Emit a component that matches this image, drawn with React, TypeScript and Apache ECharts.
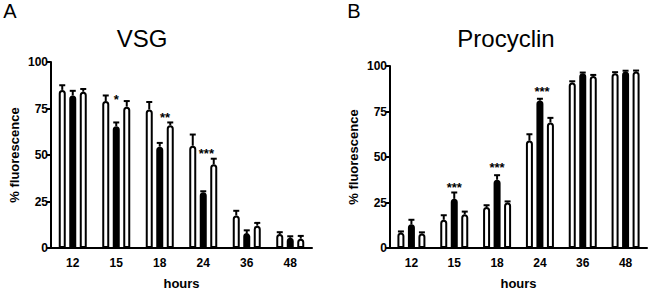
import React, { useEffect, useRef } from "react";
import * as echarts from "echarts";

const categories = ["12", "15", "18", "24", "36", "48"];

// Panel A: VSG
const vsgWT = [85, 79, 74.5, 55, 17.5, 7.5];
const vsgWTErr = [2.5, 3, 4, 6, 2.5, 1];
const vsgKO = [82, 65.5, 54.5, 30, 8, 5.5];
const vsgKOErr = [2.5, 2, 2, 0.5, 1.5, 0.8];
const vsgAdd = [84, 76, 66, 45, 12, 5];
const vsgAddErr = [1.5, 3, 1.5, 3, 1.5, 1.5];
const vsgStarCat = [1, 2, 3];
const vsgStarY = [80, 70, 51];
const vsgStarPos = [1, 1.5, 1.3];
const vsgStarText = ["*", "**", "***"];

// Panel B: Procyclin
const proWT = [8.5, 15.5, 22.5, 59, 91, 96];
const proWTErr = [0.6, 2.5, 1, 3.5, 0.6, 0.6];
const proKO = [13, 27, 37.5, 81, 96, 97];
const proKOErr = [2.5, 3.5, 2.5, 1, 0.4, 0.4];
const proAdd = [8, 18.5, 25, 69, 94.5, 97];
const proAddErr = [0.6, 1.5, 0.6, 2.5, 0.6, 0.5];
const proStarCat = [1, 2, 3];
const proStarY = [33, 44, 86];
const proStarPos = [1, 1, 1.2];
const proStarText = ["***", "***", "***"];

const yTicks = [0, 25, 50, 75, 100];

const FONT = "Liberation Sans, Arial, sans-serif";
const BAR_W = 7;
const STEP = 10.5;

function barSeries(data: number[], color: string, axis: number, name: string) {
  return {
    type: "bar",
    name,
    xAxisIndex: axis,
    yAxisIndex: axis,
    data,
    barWidth: BAR_W,
    barGap: "50%",
    itemStyle: { color, borderColor: "#000", borderWidth: 2, borderRadius: [3, 3, 0, 0] },
    z: 2,
  };
}

function errSeries(vals: number[][], errs: number[][], axis: number) {
  const data: number[][] = [];
  vals.forEach((arr, s) => arr.forEach((v, i) => data.push([i, s, v, errs[s][i]])));
  return {
    type: "custom",
    xAxisIndex: axis,
    yAxisIndex: axis,
    data,
    z: 3,
    renderItem: (_p: any, api: any) => {
      const cat = api.value(0);
      const s = api.value(1);
      const v = api.value(2);
      const e = api.value(3);
      const b = api.coord([cat, v]);
      const t = api.coord([cat, v + e]);
      const x = b[0] + (s - 1) * STEP;
      const st = { stroke: "#000", lineWidth: 2 };
      return {
        type: "group",
        children: [
          { type: "line", shape: { x1: x, y1: b[1], x2: x, y2: t[1] }, style: st },
          { type: "line", shape: { x1: x - 3, y1: t[1], x2: x + 3, y2: t[1] }, style: st },
        ],
      };
    },
  };
}

function starSeries(cats: number[], ys: number[], pos: number[], texts: string[], axis: number) {
  return {
    type: "custom",
    xAxisIndex: axis,
    yAxisIndex: axis,
    data: cats.map((c, i) => [c, ys[i], pos[i]]),
    z: 4,
    renderItem: (p: any, api: any) => {
      const c = api.coord([api.value(0), api.value(1)]);
      return {
        type: "text",
        x: c[0] + (api.value(2) - 1) * STEP,
        y: c[1],
        style: {
          text: texts[p.dataIndex],
          fill: "#000",
          font: `bold 13px ${FONT}`,
          textAlign: "center",
          textVerticalAlign: "middle",
        },
      };
    },
  };
}

export default function App() {
  const ref = useRef<HTMLDivElement>(null);
  useEffect(() => {
    if (!ref.current) return;
    const chart = echarts.init(ref.current, undefined, { renderer: "svg" });
    const axisLine = { lineStyle: { color: "#000", width: 2 } };
    const xAxis = (i: number) => ({
      type: "category",
      gridIndex: i,
      data: categories,
      axisLine,
      axisTick: { alignWithLabel: true, length: 4, lineStyle: { color: "#000", width: 2 } },
      axisLabel: { color: "#000", fontFamily: FONT, fontWeight: "bold", fontSize: 12, margin: 9 },
      name: "hours",
      nameLocation: "middle",
      nameGap: 29,
      nameTextStyle: { color: "#000", fontFamily: FONT, fontWeight: "bold", fontSize: 13 },
    });
    const yAxis = (i: number) => ({
      type: "value",
      gridIndex: i,
      min: yTicks[0],
      max: yTicks[yTicks.length - 1],
      interval: 25,
      axisLine: { show: true, ...axisLine },
      axisTick: { show: true, length: 4, lineStyle: { color: "#000", width: 2 } },
      splitLine: { show: false },
      axisLabel: { color: "#000", fontFamily: FONT, fontWeight: "bold", fontSize: 12, margin: 3 },
      name: "% fluorescence",
      nameLocation: "middle",
      nameGap: 30,
      nameTextStyle: { color: "#000", fontFamily: FONT, fontWeight: "bold", fontSize: 13 },
    });
    const txt = (text: string, x: number, y: number, size: number) => ({
      type: "text",
      x,
      y,
      style: {
        text,
        fill: "#000",
        font: `${size}px ${FONT}`,
        textAlign: "center",
        textVerticalAlign: "middle",
      },
    });
    chart.setOption({
      animation: false,
      backgroundColor: "#fff",
      grid: [
        { left: 51, top: 62, width: 261, height: 186, outerBoundsMode: "none", containLabel: false },
        { left: 390, top: 66, width: 257, height: 182, outerBoundsMode: "none", containLabel: false },
      ],
      xAxis: [xAxis(0), xAxis(1)],
      yAxis: [yAxis(0), yAxis(1)],
      graphic: [
        txt("A", 10, 11, 20),
        txt("VSG", 142, 38, 24),
        txt("B", 354, 11, 20),
        txt("Procyclin", 506, 38, 24),
      ],
      series: [
        barSeries(vsgWT, "#fff", 0, "A1"),
        barSeries(vsgKO, "#000", 0, "A2"),
        barSeries(vsgAdd, "#fff", 0, "A3"),
        errSeries([vsgWT, vsgKO, vsgAdd], [vsgWTErr, vsgKOErr, vsgAddErr], 0),
        starSeries(vsgStarCat, vsgStarY, vsgStarPos, vsgStarText, 0),
        barSeries(proWT, "#fff", 1, "B1"),
        barSeries(proKO, "#000", 1, "B2"),
        barSeries(proAdd, "#fff", 1, "B3"),
        errSeries([proWT, proKO, proAdd], [proWTErr, proKOErr, proAddErr], 1),
        starSeries(proStarCat, proStarY, proStarPos, proStarText, 1),
      ],
    });
    return () => chart.dispose();
  }, []);
  return (
    <div
      ref={ref}
      style={{ position: "fixed", left: 0, top: 0, width: 650, height: 290, background: "#fff" }}
    />
  );
}
